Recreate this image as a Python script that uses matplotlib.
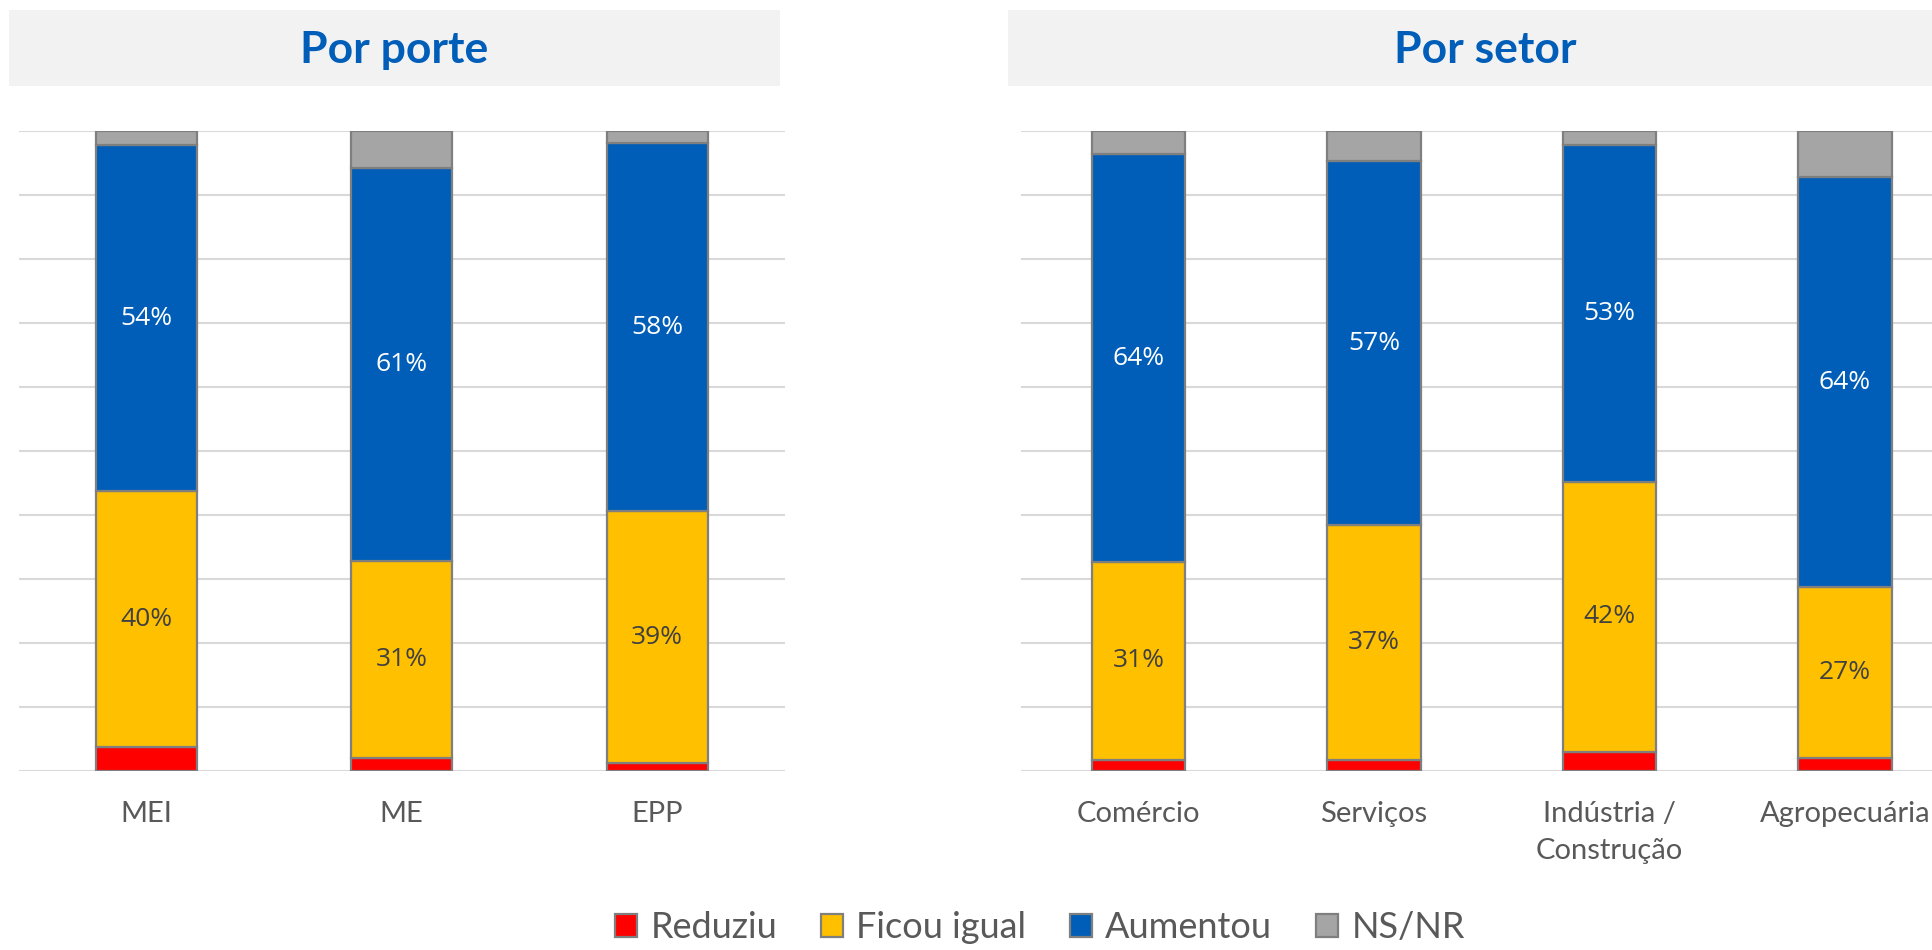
import matplotlib
matplotlib.use("Agg")
import matplotlib.pyplot as plt
from matplotlib.patches import Rectangle
import numpy as np

# ---- data ----
series = ["Reduziu", "Ficou igual", "Aumentou", "NS/NR"]
colors = ["#FF0000", "#FFC000", "#005EB8", "#A5A5A5"]

porte_cats = ["MEI", "ME", "EPP"]
porte_reduziu = [3.6, 2.0, 1.2]
porte_igual = [40.1, 30.8, 39.3]
porte_aumentou = [54.0, 61.3, 57.6]
porte_nsnr = [2.3, 5.9, 1.9]

setor_cats = ["Comércio", "Serviços", "Indústria /\nConstrução", "Agropecuária"]
setor_reduziu = [1.7, 1.7, 2.9, 2.0]
setor_igual = [30.9, 36.6, 42.2, 26.7]
setor_aumentou = [63.7, 56.9, 52.6, 64.0]
setor_nsnr = [3.7, 4.8, 2.3, 7.3]

label_font = ["Lato", "DejaVu Sans"]
num_font = ["Open Sans", "DejaVu Sans"]

W, H = 1933, 950
fig = plt.figure(figsize=(W / 100, H / 100), dpi=100)


def fx(px):
    return px / W


def fy(py):
    return 1 - py / H


def draw_panel(rect, cats, data, width, title, title_box):
    ax = fig.add_axes(rect)
    x = np.arange(len(cats))
    bottom = np.zeros(len(cats))
    for vals, col, name in zip(data, colors, series):
        vals = np.array(vals)
        ax.bar(x, vals, width=width, bottom=bottom, color=col,
               edgecolor="#7F7F7F", linewidth=1.6, zorder=3, label=name)
        if name in ("Ficou igual", "Aumentou"):
            for xi, b, v in zip(x, bottom, vals):
                ax.text(xi, b + v / 2, f"{round(v):.0f}%", ha="center", va="center",
                        fontsize=19, family=num_font,
                        color="white" if name == "Aumentou" else "#404040",
                        zorder=4)
        bottom += vals
    ax.set_xlim(-0.5, len(cats) - 0.5)
    ax.set_ylim(0, 100)
    ax.set_yticks(np.arange(0, 101, 10))
    ax.yaxis.grid(True, color="#D9D9D9", linewidth=1.5, zorder=0)
    ax.set_yticklabels([])
    ax.tick_params(axis="y", length=0)
    ax.tick_params(axis="x", length=0, pad=22)
    ax.set_xticks(x)
    ax.set_xticklabels(cats, fontsize=21, family=label_font, color="#595959",
                       linespacing=1.5)
    for s in ax.spines.values():
        s.set_visible(False)
    # title box
    x0, y0, x1, y1 = title_box
    fig.add_artist(Rectangle((fx(x0), fy(y1)), fx(x1 - x0), fy(y0) - fy(y1),
                             transform=fig.transFigure, facecolor="#F2F2F2",
                             edgecolor="none", zorder=0))
    fig.text(fx((x0 + x1) / 2), fy((y0 + y1) / 2 + 2), title, ha="center", va="center",
             fontsize=32, fontweight="bold", family=label_font, color="#005EB8")
    return ax


ax1 = draw_panel([fx(18.5), fy(770.5), fx(785 - 18.5), fy(130.7) - fy(770.5)],
                 porte_cats, [porte_reduziu, porte_igual, porte_aumentou, porte_nsnr],
                 0.395, "Por porte", (8.6, 10, 780, 86))
ax2 = draw_panel([fx(1020.8), fy(770.5), fx(1962.6 - 1020.8), fy(130.7) - fy(770.5)],
                 setor_cats, [setor_reduziu, setor_igual, setor_aumentou, setor_nsnr],
                 0.398, "Por setor", (1008, 10, 1962, 86))

handles, labels = ax1.get_legend_handles_labels()
leg = fig.legend(handles, labels, loc="center", bbox_to_anchor=(fx(1040), fy(928)),
                 ncol=4, frameon=False, handlelength=0.61, handleheight=0.61,
                 handletextpad=0.36, columnspacing=1.22, borderaxespad=0,
                 prop={"family": label_font, "size": 26})
for t in leg.get_texts():
    t.set_color("#595959")

fig.savefig("out.png", dpi=100)
